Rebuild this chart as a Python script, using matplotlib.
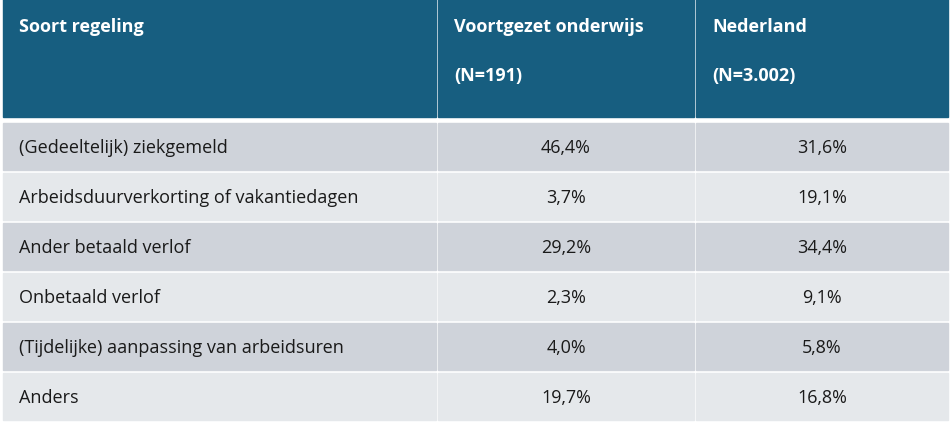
import matplotlib
matplotlib.use("Agg")
import matplotlib.pyplot as plt
from matplotlib.patches import Rectangle

headers = ["Soort regeling", "Voortgezet onderwijs\n\n(N=191)", "Nederland\n\n(N=3.002)"]
categories = [
    "(Gedeeltelijk) ziekgemeld",
    "Arbeidsduurverkorting of vakantiedagen",
    "Ander betaald verlof",
    "Onbetaald verlof",
    "(Tijdelijke) aanpassing van arbeidsuren",
    "Anders",
]
vo_values = ["46,4%", "3,7%", "29,2%", "2,3%", "4,0%", "19,7%"]
nl_values = ["31,6%", "19,1%", "34,4%", "9,1%", "5,8%", "16,8%"]

col_x = [(3, 436), (438, 694), (696, 948)]
header_h = (0, 118)
row_top, row_h, gap = 124, 47, 3
header_col = "#175e80"
row_cols = ["#cfd3da", "#e5e8eb"]
font = "Open Sans"

fig = plt.figure(figsize=(9.52, 4.27), dpi=100)
ax = fig.add_axes([0, 0, 1, 1])
ax.set_xlim(0, 952)
ax.set_ylim(427, 0)
ax.axis("off")

for (x0, x1), h in zip(col_x, headers):
    ax.add_patch(Rectangle((x0, header_h[0]), x1 - x0, header_h[1] - header_h[0], color=header_col))
    ax.text(x0 + 16, 18, h, color="white", fontsize=13, fontweight="bold",
            family=font, va="top", ha="left", linespacing=1.45)

for i, cat in enumerate(categories):
    y0 = row_top + i * (row_h + gap)
    yc = y0 + row_h / 2 + 1
    for (x0, x1) in col_x:
        ax.add_patch(Rectangle((x0, y0), x1 - x0, row_h, color=row_cols[i % 2]))
    ax.text(col_x[0][0] + 16, yc, cat, fontsize=13, family=font, va="center", color="#1a1a1a")
    ax.text(sum(col_x[1]) / 2, yc, vo_values[i], fontsize=13, family=font, va="center", ha="center", color="#1a1a1a")
    ax.text(sum(col_x[2]) / 2, yc, nl_values[i], fontsize=13, family=font, va="center", ha="center", color="#1a1a1a")

fig.savefig("out.png", dpi=100)
